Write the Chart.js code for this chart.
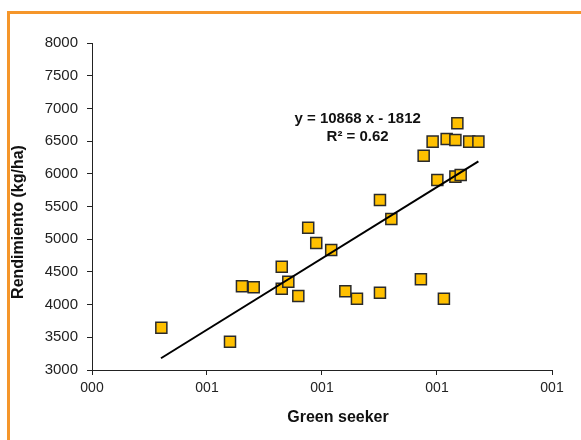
<!DOCTYPE html>
<html>
<head>
<meta charset="utf-8">
<script src="https://cdn.jsdelivr.net/npm/chart.js@4/dist/chart.umd.min.js"></script>
<style>
  html, body { margin: 0; padding: 0; background: #fff; }
  #wrap { position: relative; width: 581px; height: 440px; overflow: hidden; }
  #frame {
    position: absolute; left: 7px; top: 11px; width: 600px; height: 460px;
    border-top: 3px solid #f5962a; border-left: 3px solid #f5962a;
  }
  canvas { position: absolute; left: 0; top: 0; }
</style>
</head>
<body>
<div id="wrap">
  <div id="frame"></div>
  <canvas id="chart" width="581" height="440"></canvas>
</div>
<script>
// Green seeker reading vs yield
const xValues = [0.4603, 0.5200, 0.5304, 0.5406, 0.5650, 0.5650, 0.5707, 0.5794,
  0.5880, 0.5950, 0.6080, 0.6203, 0.6304, 0.6504, 0.6504, 0.6603, 0.6860, 0.7060,
  0.6884, 0.6962, 0.7003, 0.7084, 0.7160, 0.7177, 0.7160, 0.7206, 0.7280, 0.7360];
const yValues = [3647, 3433, 4280, 4265, 4580, 4243, 4350, 4131,
  5176, 4942, 4835, 4203, 4090, 4182, 5599, 5309, 4387, 4090,
  6277, 6492, 5905, 6532, 6517, 6772, 5957, 5982, 6492, 6492];

// linear trend ends, as drawn
const trendX = [0.46, 0.736];
const trendY = [3180, 6190];

const xTickValues = [0.4, 0.5, 0.6, 0.7, 0.8];
const xTickLabels = ["000", "001", "001", "001", "001"];

const equationText = "y = 10868 x - 1812";
const r2Text = "R\u00b2 = 0.62";

const FONT = '"Liberation Sans", Arial, sans-serif';

const textPlugin = {
  id: "texts",
  afterDraw(chart) {
    const { ctx, scales } = chart;
    ctx.save();
    ctx.fillStyle = "#111";
    ctx.textAlign = "center";
    ctx.textBaseline = "middle";

    // equation label
    ctx.font = "bold 15px " + FONT;
    const ex = scales.x.getPixelForValue(0.631);
    const ey = scales.y.getPixelForValue(6840);
    ctx.fillText(equationText, ex, ey);
    ctx.fillText(r2Text, ex, ey + 18);

    // axis titles
    ctx.font = "bold 16px " + FONT;
    ctx.fillText("Green seeker", 338, 418);
    ctx.translate(19, 222);
    ctx.rotate(-Math.PI / 2);
    ctx.fillText("Rendimiento (kg/ha)", 0, 0);
    ctx.restore();
  }
};

const points = xValues.map((x, i) => ({ x: x, y: yValues[i] }));
const trend = trendX.map((x, i) => ({ x: x, y: trendY[i] }));

new Chart(document.getElementById("chart").getContext("2d"), {
  type: "scatter",
  data: {
    datasets: [
      {
        label: "Tendencia",
        data: trend,
        showLine: true,
        borderColor: "#000",
        borderWidth: 2,
        pointRadius: 0,
        order: 0
      },
      {
        label: "Rendimiento",
        data: points,
        pointStyle: "rect",
        pointRadius: 7.8,
        backgroundColor: "#ffc000",
        borderColor: "#2a2a2a",
        borderWidth: 1.5,
        order: 1
      }
    ]
  },
  options: {
    responsive: false,
    animation: false,
    layout: { padding: { left: 0, top: 43, right: 29, bottom: 0 } },
    plugins: {
      legend: { display: false },
      tooltip: { enabled: false }
    },
    scales: {
      x: {
        type: "linear",
        min: 0.4,
        max: 0.8,
        afterFit(scale) { scale.height = 70; },
        afterBuildTicks(scale) {
          scale.ticks = xTickValues.map(v => ({ value: v }));
        },
        ticks: {
          padding: 5,
          color: "#222",
          font: { family: FONT, size: 14 },
          maxRotation: 0,
          callback: (v, i) => xTickLabels[i]
        },
        grid: { drawOnChartArea: false, drawTicks: true, tickLength: 5, color: "#222" },
        border: { color: "#222", width: 1 }
      },
      y: {
        min: 3000,
        max: 8000,
        afterFit(scale) { scale.width = 92; },
        ticks: {
          stepSize: 500,
          padding: 9,
          color: "#222",
          font: { family: FONT, size: 15 },
          callback: v => String(v)
        },
        grid: { drawOnChartArea: false, drawTicks: true, tickLength: 5, color: "#222" },
        border: { color: "#222", width: 1 }
      }
    }
  },
  plugins: [textPlugin]
});
</script>
</body>
</html>
